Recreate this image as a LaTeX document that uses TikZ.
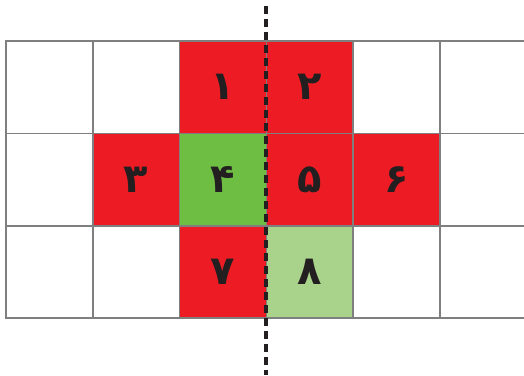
\documentclass[tikz,border=0pt]{standalone}
\usepackage{fontspec}
\newfontfamily\arabicfont[Script=Arabic]{DejaVu Sans}
\TeXXeTstate=1
\definecolor{cred}{HTML}{ED1C24}
\definecolor{cgreen}{HTML}{6FBE44}
\definecolor{clight}{HTML}{A9D38B}
\definecolor{cgrid}{HTML}{7F7F7F}
\definecolor{ctext}{HTML}{231F20}
\begin{document}
\begin{tikzpicture}[x=1pt,y=-1pt,
  cell/.style={rectangle,draw=cgrid,line width=1.5pt,minimum width=86.8pt,minimum height=92.4pt,inner sep=0pt,
    text=ctext,font=\arabicfont\bfseries\fontsize{40}{40}\selectfont},
  axisline/.style={draw=ctext,line width=3.2pt,dash pattern=on 8pt off 5pt}]
\useasboundingbox (0,0) rectangle (524,375);
\clip (0,0) rectangle (524,375);
\def\cw{86.8}\def\ch{92.4}
% row 0
\node[cell] (c00) at (6+0.5*\cw,41+0.5*\ch) {};
\node[cell] (c10) at (6+1.5*\cw,41+0.5*\ch) {};
\node[cell,fill=cred] (c20) at (6+2.5*\cw,41+0.5*\ch) {\beginR ۱\endR};
\node[cell,fill=cred] (c30) at (6+3.5*\cw,41+0.5*\ch) {\beginR ۲\endR};
\node[cell] (c40) at (6+4.5*\cw,41+0.5*\ch) {};
\node[cell] (c50) at (6+5.5*\cw,41+0.5*\ch) {};
% row 1
\node[cell] (c01) at (6+0.5*\cw,41+1.5*\ch) {};
\node[cell,fill=cred] (c11) at (6+1.5*\cw,41+1.5*\ch) {\beginR ۳\endR};
\node[cell,fill=cgreen] (c21) at (6+2.5*\cw,41+1.5*\ch) {\beginR ۴\endR};
\node[cell,fill=cred] (c31) at (6+3.5*\cw,41+1.5*\ch) {\beginR ۵\endR};
\node[cell,fill=cred] (c41) at (6+4.5*\cw,41+1.5*\ch) {\beginR ۶\endR};
\node[cell] (c51) at (6+5.5*\cw,41+1.5*\ch) {};
% row 2
\node[cell] (c02) at (6+0.5*\cw,41+2.5*\ch) {};
\node[cell] (c12) at (6+1.5*\cw,41+2.5*\ch) {};
\node[cell,fill=cred] (c22) at (6+2.5*\cw,41+2.5*\ch) {\beginR ۷\endR};
\node[cell,fill=clight] (c32) at (6+3.5*\cw,41+2.5*\ch) {\beginR ۸\endR};
\node[cell] (c42) at (6+4.5*\cw,41+2.5*\ch) {};
\node[cell] (c52) at (6+5.5*\cw,41+2.5*\ch) {};
% axis
\coordinate (atop) at (266,6);
\coordinate (abot) at (266,375);
\draw[axisline] (atop) -- (abot);
\end{tikzpicture}
\end{document}
